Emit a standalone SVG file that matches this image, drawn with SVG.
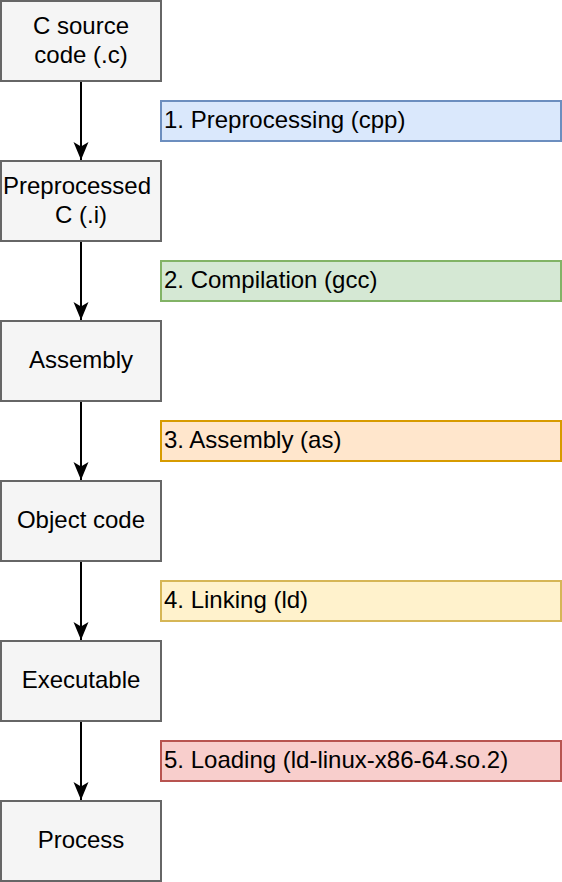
<svg xmlns="http://www.w3.org/2000/svg" width="562" height="882" viewBox="0 0 562 882">
<style>
.n{fill:#f5f5f5;stroke:#666666;stroke-width:2}
.t{font-family:"Liberation Sans",Arial,sans-serif;font-size:24px;fill:#000000}
.c{text-anchor:middle}
.e{stroke:#000000;stroke-width:2;fill:none}
</style>
<defs>
<marker id="ah" viewBox="-19 -8 20 16" refX="0" refY="0" markerWidth="20" markerHeight="16" markerUnits="userSpaceOnUse" orient="auto">
<path d="M0,0 L-18,-7.5 L-13.5,0 L-18,7.5 Z" fill="#000000"/>
</marker>
</defs>
<rect width="562" height="882" fill="#ffffff"/>
<g id="connectors">
<line class="e" x1="81" y1="81" x2="81" y2="160" marker-end="url(#ah)"/>
<line class="e" x1="81" y1="241" x2="81" y2="320" marker-end="url(#ah)"/>
<line class="e" x1="81" y1="401" x2="81" y2="480" marker-end="url(#ah)"/>
<line class="e" x1="81" y1="561" x2="81" y2="640" marker-end="url(#ah)"/>
<line class="e" x1="81" y1="721" x2="81" y2="800" marker-end="url(#ah)"/>
</g>
<g id="src"><rect class="n" x="1" y="1" width="160" height="80"/><text class="t c" x="81" y="34.3">C source</text><text class="t c" x="81" y="63.3">code (.c)</text></g>
<g id="pre"><rect class="n" x="1" y="161" width="160" height="80"/><text class="t c" x="77" y="194.3">Preprocessed</text><text class="t c" x="81" y="223.3">C (.i)</text></g>
<g id="asm"><rect class="n" x="1" y="321" width="160" height="80"/><text class="t c" x="81" y="368.3">Assembly</text></g>
<g id="obj"><rect class="n" x="1" y="481" width="160" height="80"/><text class="t c" x="81" y="528.3">Object code</text></g>
<g id="exe"><rect class="n" x="1" y="641" width="160" height="80"/><text class="t c" x="81" y="688.3">Executable</text></g>
<g id="proc"><rect class="n" x="1" y="801" width="160" height="80"/><text class="t c" x="81" y="848.3">Process</text></g>
<g id="l1"><rect x="161" y="101" width="400" height="40" fill="#dae8fc" stroke="#6c8ebf" stroke-width="2"/><text class="t" x="164" y="128.3">1. Preprocessing (cpp)</text></g>
<g id="l2"><rect x="161" y="261" width="400" height="40" fill="#d5e8d4" stroke="#82b366" stroke-width="2"/><text class="t" x="164" y="288.3">2. Compilation (gcc)</text></g>
<g id="l3"><rect x="161" y="421" width="400" height="40" fill="#ffe6cc" stroke="#d79b00" stroke-width="2"/><text class="t" x="164" y="448.3">3. Assembly (as)</text></g>
<g id="l4"><rect x="161" y="581" width="400" height="40" fill="#fff2cc" stroke="#d6b656" stroke-width="2"/><text class="t" x="164" y="608.3">4. Linking (ld)</text></g>
<g id="l5"><rect x="161" y="741" width="400" height="40" fill="#f8cecc" stroke="#b85450" stroke-width="2"/><text class="t" x="164" y="768.3">5. Loading (ld-linux-x86-64.so.2)</text></g>
</svg>
